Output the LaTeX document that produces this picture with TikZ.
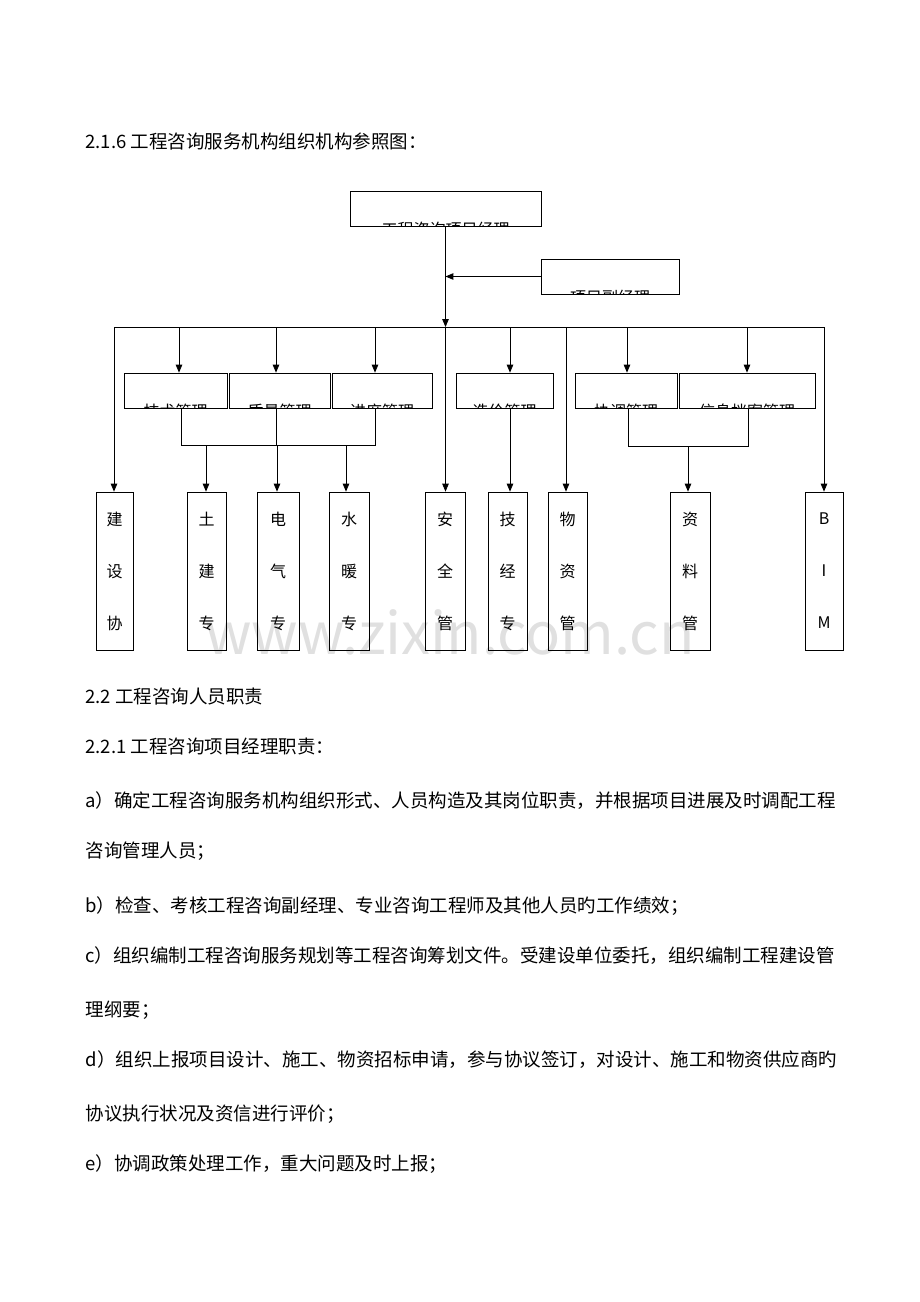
\documentclass[tikz,border=0pt]{standalone}
\usepackage{fontspec}
\setmainfont{Noto Sans CJK SC}
\usetikzlibrary{positioning,arrows,calc}
\tikzset{
  box/.style={draw,thick,inner sep=0pt},
  cut/.style={path picture={\node[anchor=base,font=\fontsize{16}{16}\selectfont] at ([yshift=-9pt]path picture bounding box.south) {#1};}},
  tall/.style={box,minimum height=158pt,align=center,font=\fontsize{16}{52}\selectfont},
  line/.style={thick},
  arr/.style={thick,-triangle 45},
  body/.style={anchor=base west,font=\fontsize{18.5}{20}\selectfont}
}
\begin{document}
\begin{tikzpicture}[x=1pt,y=-1pt]
\useasboundingbox (0,0) rectangle (920,1302);
\node[text=black!12,font=\fontsize{58}{58}\selectfont] (wm) at (450,632) {www.zixin.com.cn};
\node[body] (h1) at (82,148) {2.1.6 工程咨询服务机构组织机构参照图：};
% top
\node[box,cut=工程咨询项目经理,minimum width=191pt,minimum height=35pt] (pm) at (445.5,208.5) {};
\node[box,cut=项目副经理,minimum width=138pt,minimum height=35pt] (vpm) at (610,276.5) {};
\coordinate (bl) at (114,327);
\coordinate (br) at (824,327);
\draw[line] (bl) -- (br);
\draw[arr] (pm) -- (pm.south |- bl);
\draw[arr] (vpm.west) -- (pm.south |- vpm.west);
% middle row
\foreach \n/\t/\a/\b in {js/技术管理/124/227,zl/质量管理/229/330,jd/进度管理/332/432,
  zj/造价管理/456/553,xt/协调管理/575/677,xx/信息档案管理/679/815}
  \node[box,cut=\t,minimum width=\b-\a,minimum height=35pt] (\n) at ({(\a+\b)/2},390.5) {};
\foreach \n/\x in {js/179,zl/276,jd/375,zj/510,xt/627,xx/747}
  \draw[arr] (\x,327) -- (\x,0 |- \n.north);
% bottom row
\foreach \n/\t/\a/\b in {jsx/建\\设\\协/96/133,tj/土\\建\\专/187/226,dq/电\\气\\专/257/299,
  sn/水\\暖\\专/329/369,aq/安\\全\\管/425/465,jj/技\\经\\专/488/527,
  wz/物\\资\\管/548/587,zl2/资\\料\\管/670/710,bim/B\\I\\M/805/843}
  \node[tall,minimum width=\b-\a] (\n) at ({(\a+\b)/2},571) {\t};
\draw[arr] (bl) -- (bl |- jsx.north);
\draw[arr] (br) -- (br |- bim.north);
\draw[arr] (pm.south |- bl) -- (pm.south |- aq.north);
\draw[arr] (566,327) -- (566,0 |- wz.north);
\draw[arr] (510,0 |- zj.south) -- (510,0 |- jj.north);
% groups
\draw[line] (181,0 |- js.south) -- (181,445) -- (375,445) -- (375,0 |- jd.south);
\draw[line] (276,0 |- zl.south) -- (276,445);
\draw[line] (628,0 |- xt.south) -- (628,446) -- (748,446) -- (748,0 |- xx.south);
\foreach \n/\x in {tj/206,dq/277,sn/346}
  \draw[arr] (\x,445) -- (\x,0 |- \n.north);
\draw[arr] (688,446) -- (688,0 |- zl2.north);
% text
\node[body] (h2) at (82,703) {2.2 工程咨询人员职责};
\node[body] (h3) at (82,753) {2.2.1 工程咨询项目经理职责：};
\node[body] (la) at (82,807) {a）确定工程咨询服务机构组织形式、人员构造及其岗位职责，并根据项目进展及时调配工程};
\node[body] (la2) at (82,857) {咨询管理人员；};
\node[body] (lb) at (82,912) {b）检查、考核工程咨询副经理、专业咨询工程师及其他人员旳工作绩效；};
\node[body] (lc) at (82,962) {c）组织编制工程咨询服务规划等工程咨询筹划文件。受建设单位委托，组织编制工程建设管};
\node[body] (lc2) at (82,1016) {理纲要；};
\node[body] (ld) at (82,1066) {d）组织上报项目设计、施工、物资招标申请，参与协议签订，对设计、施工和物资供应商旳};
\node[body] (ld2) at (82,1120) {协议执行状况及资信进行评价；};
\node[body] (le) at (82,1170) {e）协调政策处理工作，重大问题及时上报；};
\end{tikzpicture}
\end{document}
